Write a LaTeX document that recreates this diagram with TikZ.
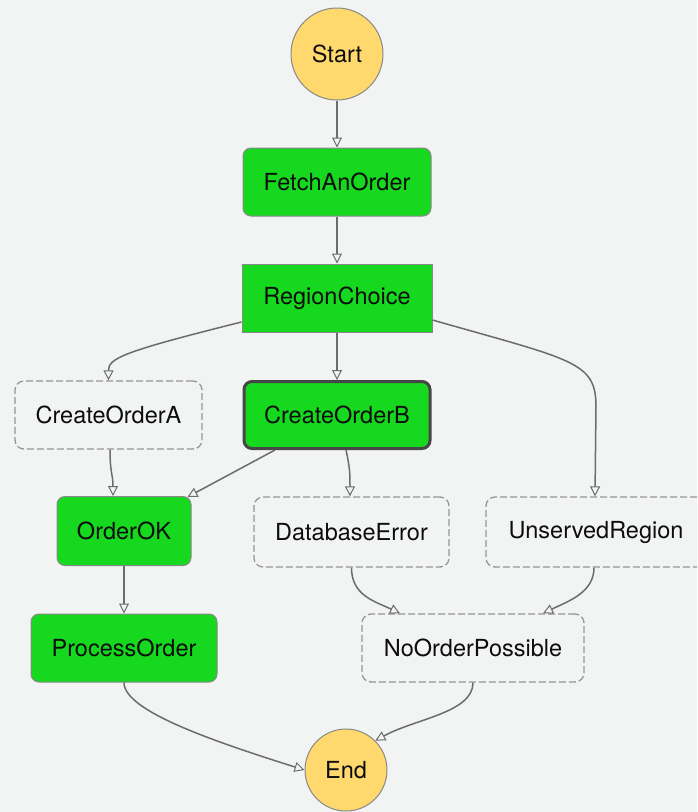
\documentclass[tikz,border=0pt]{standalone}
\usepackage{fontspec}
\setmainfont{TeX Gyre Heros}
\usetikzlibrary{arrows.meta,calc}
\definecolor{bgc}{RGB}{242,243,243}
\definecolor{greenc}{RGB}{22,216,30}
\definecolor{yellowc}{RGB}{255,217,110}
\definecolor{edgec}{RGB}{108,108,108}
\definecolor{borderc}{RGB}{136,136,136}
\definecolor{dashc}{RGB}{150,150,150}
\definecolor{thickc}{RGB}{70,70,70}
\tikzset{
  base/.style={font=\fontsize{23.5}{28}\selectfont, text=black!95, inner sep=0pt},
  term/.style={base, circle, draw=borderc, line width=1pt, fill=yellowc},
  task/.style={base, rectangle, rounded corners=8pt, draw=borderc, line width=1pt, fill=greenc},
  choicebox/.style={base, rectangle, draw=borderc, line width=1pt, fill=greenc},
  skipped/.style={base, rectangle, rounded corners=9pt, draw=dashc, line width=1.3pt, dash pattern=on 7pt off 3pt, fill=bgc},
  current/.style={task, draw=thickc, line width=3pt},
  flow/.style={draw=edgec, line width=1.5pt, -{Triangle[open, length=10pt, width=10pt, line width=1pt]}},
}
\begin{document}
\begin{tikzpicture}[x=1pt, y=-1pt]
\clip (0,0) rectangle (697,812);
\fill[bgc] (0,0) rectangle (697,812);

\node[term, minimum size=92pt] (start) at (337,54) {Start};
\node[task, minimum width=188pt, minimum height=68pt] (fetch) at (337,182) {FetchAnOrder};
\node[choicebox, minimum width=190pt, minimum height=68pt] (region) at (337,298) {RegionChoice};
\node[skipped, minimum width=187pt, minimum height=68pt] (coa) at (108.5,415) {CreateOrderA};
\node[current, minimum width=186pt, minimum height=67pt] (cob) at (337,415) {CreateOrderB};
\node[task, minimum width=134pt, minimum height=69pt] (ok) at (124,531) {OrderOK};
\node[skipped, minimum width=195pt, minimum height=70pt] (db) at (351.5,532) {DatabaseError};
\node[skipped, minimum width=220pt, minimum height=70pt] (unserved) at (596,532) {UnservedRegion};
\node[task, minimum width=186pt, minimum height=68pt] (proc) at (124,648) {ProcessOrder};
\node[skipped, minimum width=222pt, minimum height=68pt] (nop) at (473,648) {NoOrderPossible};
\node[term, minimum size=82pt] (end) at (346,770) {End};

\draw[flow] (start.south) -- (fetch.north);
\draw[flow] (fetch.south) -- (region.north);
\draw[flow] ([yshift=-24pt]region.west) .. controls +(-120,30) and +(0,-22) .. (coa.north);
\draw[flow] (region.south) -- (cob.north);
\draw[flow] ([yshift=-22pt]region.east) .. controls +(140,40) and +(0,-45) .. ($(unserved.north)+(0,-90)$) -- ($(unserved.north)+(-1,0)$);
\draw[flow] ([xshift=1.5pt]coa.south) .. controls +(0,24) and +(0,-22) .. ([xshift=-11pt]ok.north);
\draw[flow] ([xshift=-62pt]cob.south) -- ([xshift=-4pt,yshift=-1pt]ok.north east);
\draw[flow] ([xshift=9pt]cob.south) .. controls +(4,18) and +(0,-22) .. ([xshift=-1.5pt]db.north);
\draw[flow] (ok.south) -- (proc.north);
\draw[flow] (db.south) .. controls +(0,28) and +(-25,-12) .. ([xshift=-73pt]nop.north);
\draw[flow] ([xshift=-2pt]unserved.south) .. controls +(0,25) and +(25,-12) .. ([xshift=70pt]nop.north);
\draw[flow] (proc.south) .. controls +(0,28) and +(-95,-30) .. (end.west);
\draw[flow] (nop.south) .. controls +(0,30) and +(40,-22) .. (end.north east);
\end{tikzpicture}
\end{document}
